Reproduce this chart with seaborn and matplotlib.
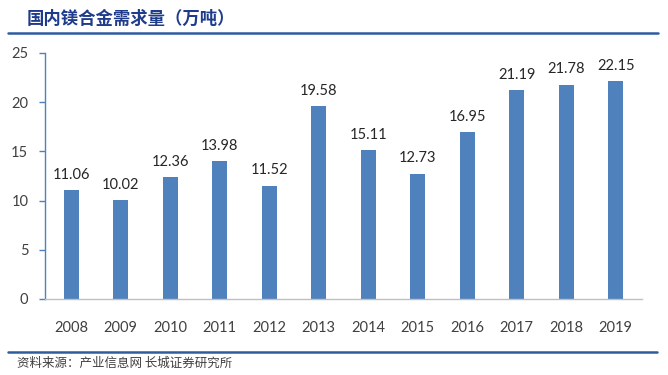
import matplotlib
matplotlib.use("Agg")
import matplotlib.pyplot as plt
import seaborn as sns
import pandas as pd
from matplotlib.lines import Line2D

years = ["2008", "2009", "2010", "2011", "2012", "2013", "2014", "2015", "2016", "2017", "2018", "2019"]
demand = [11.06, 10.02, 12.36, 13.98, 11.52, 19.58, 15.11, 12.73, 16.95, 21.19, 21.78, 22.15]
yticks = [0, 5, 10, 15, 20, 25]
title = "国内镁合金需求量（万吨）"
source = "资料来源：产业信息网 长城证券研究所"

sns.set_theme(style="white")
plt.rcParams['font.family'] = ['Lato', 'Noto Sans CJK SC', 'DejaVu Sans']

df = pd.DataFrame({"year": years, "demand": demand})

fig = plt.figure(figsize=(6.68, 3.75), dpi=100)
ax = fig.add_axes([45/668, 1-299/375, (642-45)/668, (299-53)/375])

sns.barplot(data=df, x="year", y="demand", ax=ax, color="#4F81BD",
            saturation=1, width=0.30, edgecolor="none")

ax.set_xlim(-0.53, len(years) - 0.47)
ax.set_ylim(0, 25)
ax.set_yticks(yticks)
ax.set_yticklabels([str(t) for t in yticks])
ax.set_xlabel("")
ax.set_ylabel("")

for c in ax.containers:
    ax.bar_label(c, labels=[f"{v:.2f}" for v in demand], padding=6,
                 fontsize=10.5, color="#262626")

for s in ["top", "right"]:
    ax.spines[s].set_visible(False)
ax.spines["left"].set_color("#4F81BD")
ax.spines["left"].set_linewidth(1.0)
ax.spines["bottom"].set_color("#BFBFBF")
ax.spines["bottom"].set_linewidth(1.0)

ax.tick_params(axis="y", which="both", left=True, length=4, width=1,
               color="#4F81BD", labelsize=10.5, labelcolor="#404040", pad=8)
ax.tick_params(axis="x", bottom=False, labelsize=10.5, labelcolor="#404040", pad=10)

fig.text(27/668, 1-19/375, title, fontsize=12.5, fontweight="bold",
         color="#1F3C8C", ha="left", va="center",
         family=['Noto Sans CJK SC', 'DejaVu Sans'])
fig.add_artist(Line2D([8/668, 658/668], [1-33/375, 1-33/375],
                      transform=fig.transFigure, color="#2E5C9E", linewidth=1.8))
fig.add_artist(Line2D([8/668, 657/668], [1-352/375, 1-352/375],
                      transform=fig.transFigure, color="#2E5C9E", linewidth=1.8))
fig.text(17/668, 1-363/375, source, fontsize=9, style="italic",
         color="#404040", ha="left", va="center",
         family=['Noto Sans CJK SC', 'DejaVu Sans'])

fig.savefig("out.png", dpi=100)
